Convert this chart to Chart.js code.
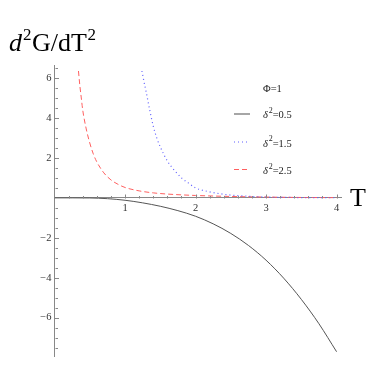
<!DOCTYPE html>
<html><head><meta charset="utf-8">
<script src="https://cdn.jsdelivr.net/npm/chart.js@4/dist/chart.umd.min.js"></script>
<style>html,body{margin:0;padding:0;background:#fff}#wrap{position:relative;width:374px;height:366px}</style>
</head><body><div id="wrap"><canvas id="c" width="374" height="366"></canvas></div>
<script>
// delta^2 = 0.5 (solid black)
const tBlack = [0,0.25,0.5,0.75,1,1.25,1.5,1.75,2,2.25,2.5,2.75,3,3.25,3.5,3.75,4];
const gBlack = [0,0,-0.005,-0.04,-0.12,-0.25,-0.42,-0.64,-0.92,-1.3,-1.78,-2.38,-3.12,-4.02,-5.08,-6.3,-7.7];
// delta^2 = 1.5 (dotted blue)
const tBlue = [1.24,1.27,1.3,1.35,1.4,1.45,1.5,1.6,1.7,1.8,1.9,2.0,2.2,2.4,2.6,2.8,3.0,3.5,4.0];
const gBlue = [6.35,5.8,5.3,4.4,3.6,3.0,2.55,1.85,1.38,1.0,0.74,0.5,0.3,0.18,0.11,0.07,0.04,0.015,0.005];
// delta^2 = 2.5 (dashed red)
const tRed = [0.34,0.36,0.38,0.4,0.45,0.5,0.55,0.6,0.7,0.8,0.9,1.0,1.2,1.4,1.6,1.8,2.0,2.5,3.0,3.5,4.0];
const gRed = [6.35,5.6,5.0,4.4,3.45,2.75,2.2,1.8,1.25,0.9,0.68,0.52,0.35,0.25,0.19,0.15,0.12,0.07,0.04,0.02,0.01];
const xTickLabels = [1,2,3,4];
const yTickLabels = [-6,-4,-2,2,4,6];
const legendLabels = ['0.5','1.5','2.5'];

const pts = (t,g)=>t.map((v,i)=>({x:v,y:g[i]}));
const COL = {black:'#555', blue:'rgb(95,95,255)', red:'rgb(255,95,95)'};
const SERIF = '"Liberation Serif","DejaVu Serif",serif';

const deco = {
  id:'deco',
  afterDraw(chart){
    const ctx = chart.ctx, xs = chart.scales.x, ys = chart.scales.y;
    const x0 = Math.round(xs.getPixelForValue(0))+0.5, y0 = Math.round(ys.getPixelForValue(0))+0.5;
    ctx.save();
    ctx.strokeStyle = '#888'; ctx.lineWidth = 1;
    ctx.beginPath();
    for(let k=1;k<=20;k++){
      const v=k*0.2, px=Math.round(xs.getPixelForValue(v))+0.5, major=(k%5===0);
      ctx.moveTo(px,y0); ctx.lineTo(px,y0-(major?4:2.5));
    }
    for(let k=-15;k<=13;k++){
      if(k===0) continue;
      const v=k*0.5, py=Math.round(ys.getPixelForValue(v))+0.5, major=(k%4===0);
      ctx.moveTo(x0-(major?1.5:0),py); ctx.lineTo(x0+(major?3.5:2.5),py);
    }
    ctx.stroke();
    // title
    ctx.fillStyle = '#000'; ctx.textBaseline = 'alphabetic'; ctx.textAlign='left';
    let x = 9;
    const part=(txt,size,style,dy,gap)=>{ctx.font=style+' '+size+'px '+SERIF; ctx.fillText(txt,x,51+dy); x+=ctx.measureText(txt).width+(gap||0);};
    part('d',26,'italic',0,1); part('2',17,'',-11,0.5); part('G/dT',26,'',0,0.5); part('2',17,'',-11);
    ctx.font = '26px '+SERIF; ctx.fillText('T',350,206);
    // legend
    ctx.fillStyle = '#222';
    ctx.font = '10.5px '+SERIF; ctx.fillText('\u03A6=1',263,92);
    const rows=[{y:114,by:118,c:'#888',d:[]},{y:142,by:146.5,c:COL.blue,d:[1,3]},{y:169.5,by:174,c:COL.red,d:[5,3]}];
    rows.forEach((r,i)=>{
      ctx.strokeStyle=r.c; ctx.lineWidth=(i===0?1.5:1); ctx.setLineDash(r.d); ctx.beginPath(); ctx.moveTo(234,r.y); ctx.lineTo(250,r.y); ctx.stroke();
      ctx.setLineDash([]);
      let lx=263; const by=r.by;
      ctx.font='italic 10.5px '+SERIF; ctx.fillText('\u03B4',lx,by); lx+=ctx.measureText('\u03B4').width+0.8;
      ctx.font='8px '+SERIF; ctx.fillText('2',lx,by-5.5); lx+=ctx.measureText('2').width;
      ctx.font='10.5px '+SERIF; ctx.fillText('='+legendLabels[i],lx,by);
    });
    ctx.restore();
  }
};

new Chart(document.getElementById('c'),{
  type:'scatter',
  data:{datasets:[
    {label:'\u03B4\u00B2=0.5',data:pts(tBlack,gBlack),showLine:true,borderColor:COL.black,borderWidth:1,pointRadius:0,cubicInterpolationMode:'monotone'},
    {label:'\u03B4\u00B2=1.5',data:pts(tBlue,gBlue),showLine:true,borderColor:COL.blue,borderWidth:1.2,borderDash:[1,3],pointRadius:0,cubicInterpolationMode:'monotone'},
    {label:'\u03B4\u00B2=2.5',data:pts(tRed,gRed),showLine:true,borderColor:COL.red,borderWidth:1,borderDash:[5,3],pointRadius:0,cubicInterpolationMode:'monotone'}
  ]},
  options:{
    responsive:false,animation:false,devicePixelRatio:1,
    layout:{padding:{left:0,right:32.5,top:65,bottom:9}},
    plugins:{legend:{display:false},tooltip:{enabled:false}},
    scales:{
      x:{type:'linear',min:0,max:4.07,position:{y:0},
        grid:{display:false,drawTicks:false},border:{display:true,color:'#888',width:1},
        afterBuildTicks:s=>{s.ticks=xTickLabels.map(v=>({value:v}));},
        afterFit:s=>{s.height=0;},
        ticks:{font:{family:SERIF,size:10.5},color:'#333',padding:4,maxRotation:0,autoSkip:false}},
      y:{type:'linear',min:-7.95,max:6.65,position:'left',
        grid:{display:false,drawTicks:false},border:{display:true,color:'#888',width:1},
        afterBuildTicks:s=>{s.ticks=yTickLabels.map(v=>({value:v}));},
        afterFit:s=>{s.width=54.5;},
        ticks:{font:{family:SERIF,size:10.5},color:'#333',padding:3,autoSkip:false,
          callback:v=>v<0?'\u2212'+Math.abs(v):String(v)}}
    }
  },
  plugins:[deco]
});
</script></body></html>
